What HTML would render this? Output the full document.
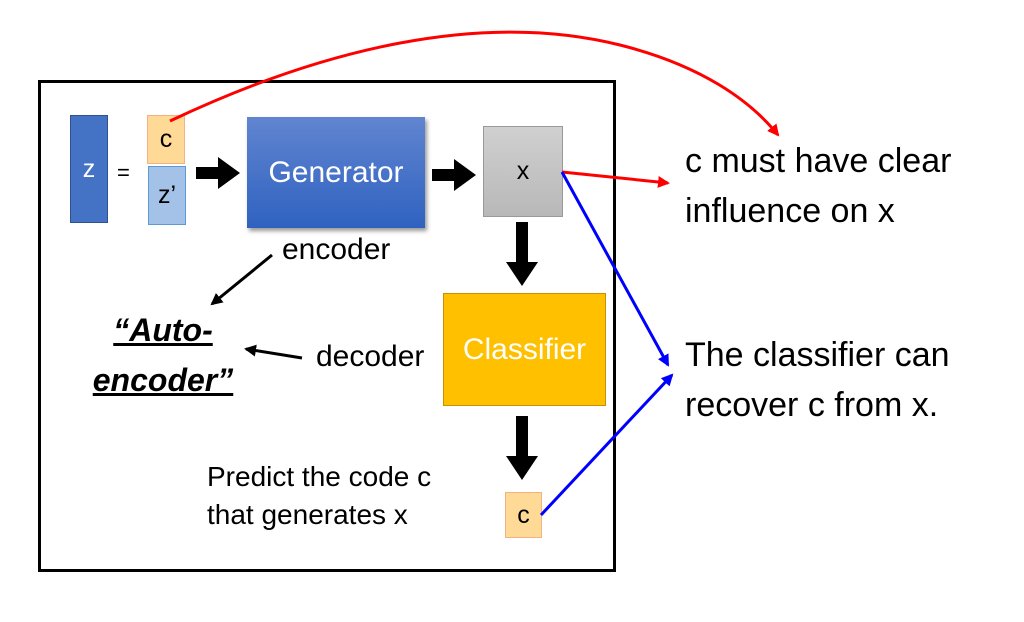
<!DOCTYPE html>
<html><head><style>
body{margin:0;width:1024px;height:622px;background:#fff;position:relative;font-family:"Liberation Sans",sans-serif;overflow:hidden}
.a{position:absolute}
</style></head><body>
<div class="a" style="left:38px;top:80px;width:572px;height:486px;border:3px solid #000"></div>
<div class="a" style="left:70px;top:115px;width:36px;height:106px;background:#4472c4;border:1px solid #2f528f;color:#fff;font-size:25px;display:flex;align-items:center;justify-content:center">z</div>
<div class="a" style="left:117px;top:160px;font-size:22px">=</div>
<div class="a" style="left:147px;top:115px;width:36px;height:47px;background:#ffd996;border:1px solid #f4b183;font-size:25px;display:flex;align-items:center;justify-content:center">c</div>
<div class="a" style="left:148px;top:166px;width:36px;height:57px;background:#a4c2e8;border:1px solid #5b9bd5;font-size:25px;display:flex;align-items:center;justify-content:center">z’</div>
<div class="a" style="left:247px;top:117px;width:178px;height:111px;background:linear-gradient(#6185d0,#2f62c0);box-shadow:2px 3px 4px #999;color:#fff;font-size:30px;display:flex;align-items:center;justify-content:center">Generator</div>
<div class="a" style="left:483px;top:126px;width:78px;height:89px;background:linear-gradient(#d0d0d0,#b8b8b8);border:1px solid #999;font-size:25px;display:flex;align-items:center;justify-content:center">x</div>
<div class="a" style="left:443px;top:293px;width:161px;height:111px;background:#ffc000;border:1px solid #c89000;color:#fff;font-size:30px;display:flex;align-items:center;justify-content:center">Classifier</div>
<div class="a" style="left:505px;top:492px;width:35px;height:44px;background:#ffd996;border:1px solid #f4b183;font-size:25px;display:flex;align-items:center;justify-content:center">c</div>
<div class="a" style="left:282px;top:233px;font-size:30px">encoder</div>
<div class="a" style="left:316px;top:340px;font-size:30px">decoder</div>
<div class="a" style="left:68px;top:305px;font-size:32px;font-weight:bold;font-style:italic;line-height:50px;text-align:center;width:190px"><span style="text-decoration:underline">“Auto-</span><br><span style="text-decoration:underline">encoder”</span></div>
<div class="a" style="left:207px;top:458px;font-size:28px;line-height:38px">Predict the code c<br>that generates x</div>
<div class="a" style="left:685px;top:136px;font-size:34px;line-height:50px">c must have clear<br>influence on x</div>
<div class="a" style="left:685px;top:330px;font-size:34px;line-height:50px">The classifier can<br>recover c from x.</div>
<svg class="a" style="left:0;top:0" width="1024" height="622">
<defs>
<marker id="r" markerWidth="12" markerHeight="12" refX="10" refY="6" orient="auto" markerUnits="userSpaceOnUse"><path d="M0,0L12,6L0,12z" fill="#f00"/></marker>
<marker id="b" markerWidth="12" markerHeight="12" refX="10" refY="6" orient="auto" markerUnits="userSpaceOnUse"><path d="M0,0L12,6L0,12z" fill="#00f"/></marker>
<marker id="k" markerWidth="12" markerHeight="12" refX="10" refY="6" orient="auto" markerUnits="userSpaceOnUse"><path d="M0,0L12,6L0,12z" fill="#000"/></marker>
</defs>
<g fill="#000">
<path d="M196,167h22v-10l22,16l-22,16v-10h-22z"/>
<path d="M432,169h22v-10l22,16l-22,16v-10h-22z"/>
<path d="M516,222h12v40h10l-16,24l-16,-24h10z"/>
<path d="M516,416h12v40h10l-16,24l-16,-24h10z"/>
</g>
<path d="M170,121C320,50 480,10 620,45C700,65 750,100 778,135" stroke="#f00" stroke-width="3" fill="none" marker-end="url(#r)"/>
<path d="M562,172L668,183" stroke="#f00" stroke-width="3" fill="none" marker-end="url(#r)"/>
<path d="M562,172L668,365" stroke="#00f" stroke-width="3" fill="none" marker-end="url(#b)"/>
<path d="M541,515L672,375" stroke="#00f" stroke-width="3" fill="none" marker-end="url(#b)"/>
<path d="M272,255L212,304" stroke="#000" stroke-width="3" fill="none" marker-end="url(#k)"/>
<path d="M302,358L246,349" stroke="#000" stroke-width="3" fill="none" marker-end="url(#k)"/>
</svg>
</body></html>
